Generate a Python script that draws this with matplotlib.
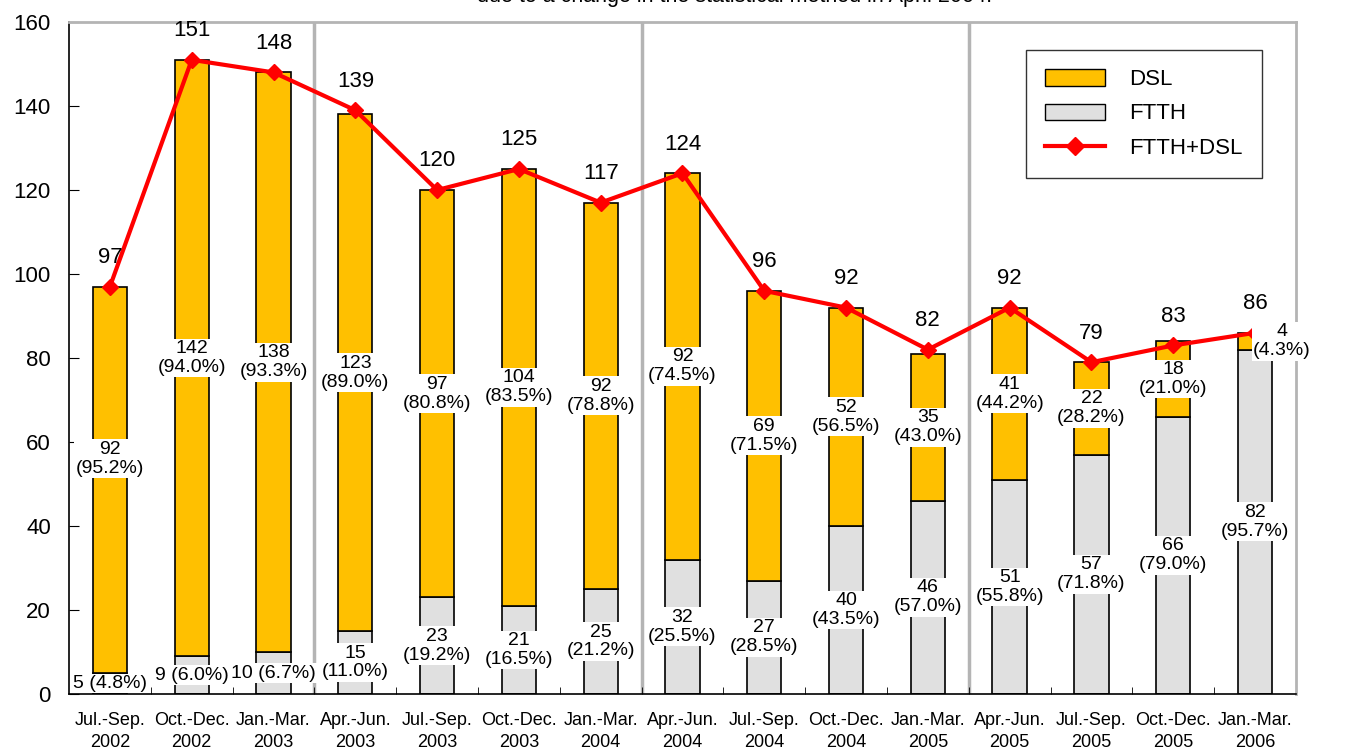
import matplotlib
matplotlib.use("Agg")

import numpy as np
import matplotlib.pyplot as plt
from matplotlib.patches import Patch
from matplotlib.lines import Line2D

plt.rcParams["font.family"] = ["Liberation Sans", "DejaVu Sans"]

# ── data ────────────────────────────────────────────────────────────
quarters = ["Jul.-Sep.\n2002", "Oct.-Dec.\n2002", "Jan.-Mar.\n2003",
            "Apr.-Jun.\n2003", "Jul.-Sep.\n2003", "Oct.-Dec.\n2003",
            "Jan.-Mar.\n2004", "Apr.-Jun.\n2004", "Jul.-Sep.\n2004",
            "Oct.-Dec.\n2004", "Jan.-Mar.\n2005", "Apr.-Jun.\n2005",
            "Jul.-Sep.\n2005", "Oct.-Dec.\n2005", "Jan.-Mar.\n2006"]
ftth = [5, 9, 10, 15, 23, 21, 25, 32, 27, 40, 46, 51, 57, 66, 82]
dsl = [92, 142, 138, 123, 97, 104, 92, 92, 69, 52, 35, 41, 22, 18, 4]
total = [97, 151, 148, 139, 120, 125, 117, 124, 96, 92, 82, 92, 79, 83, 86]
ftth_pct = [4.8, 6.0, 6.7, 11.0, 19.2, 16.5, 21.2, 25.5, 28.5, 43.5,
            57.0, 55.8, 71.8, 79.0, 95.7]
dsl_pct = [95.2, 94.0, 93.3, 89.0, 80.8, 83.5, 78.8, 74.5, 71.5, 56.5,
           43.0, 44.2, 28.2, 21.0, 4.3]
fy_breaks = [2.5, 6.5, 10.5]   # fiscal-year separators

DSL_COLOR = "#FFC000"
FTTH_COLOR = "#E0E0E0"
LINE_COLOR = "#FF0000"
SEP_COLOR = "#B4B4B4"

fig = plt.figure(figsize=(13.46, 7.52), dpi=100)
ax = fig.add_axes([0.0513, 0.0771, 0.9115, 0.8936])

x = np.arange(len(quarters))
bw = 0.42
ax.bar(x, ftth, bw, color=FTTH_COLOR, edgecolor="black", linewidth=1.2, zorder=2)
ax.bar(x, dsl, bw, bottom=ftth, color=DSL_COLOR, edgecolor="black",
       linewidth=1.2, zorder=2)
ax.plot(x, total, color=LINE_COLOR, lw=3, marker="D", ms=8, zorder=4)

for xs in fy_breaks:
    ax.axvline(xs, color=SEP_COLOR, lw=2.5, zorder=1)

box = dict(facecolor="white", edgecolor="none", pad=1.0)
lab_fs = 14
ls = 1.15
for i in range(len(x)):
    # FTTH labels
    if i < 3:
        ax.text(x[i], ftth[i] / 2, f"{ftth[i]} ({ftth_pct[i]:.1f}%)",
                ha="center", va="center", fontsize=lab_fs, bbox=box, zorder=5)
    else:
        ax.text(x[i], ftth[i] / 2, f"{ftth[i]}\n({ftth_pct[i]:.1f}%)",
                ha="center", va="center", fontsize=lab_fs, linespacing=ls,
                bbox=box, zorder=5)
    # DSL labels
    if i == len(x) - 1:
        ax.text(x[i] + 0.33, 84, f"{dsl[i]}\n({dsl_pct[i]:.1f}%)",
                ha="center", va="center", fontsize=lab_fs, linespacing=ls,
                bbox=box, zorder=5)
    else:
        yl = ftth[i] + dsl[i] / 2 + (5 if i == 0 else 0)
        ax.text(x[i], yl, f"{dsl[i]}\n({dsl_pct[i]:.1f}%)",
                ha="center", va="center", fontsize=lab_fs, linespacing=ls,
                bbox=box, zorder=5)
    # totals
    ax.annotate(f"{total[i]}", (x[i], total[i]), xytext=(0, 21),
                textcoords="offset points", ha="center", va="center",
                fontsize=16, zorder=5)

ax.set_xlim(-0.5, len(x) - 0.5)
ax.set_ylim(0, 160)
ax.set_yticks(range(0, 161, 20))
ax.tick_params(axis="y", direction="in", length=7, labelsize=16, pad=13)
ax.set_xticks(x)
ax.set_xticklabels(quarters, fontsize=13, linespacing=1.35)
ax.tick_params(axis="x", length=0, pad=13)
ax.set_xticks(np.arange(0.5, len(x) - 1, 1), minor=True)
ax.tick_params(axis="x", which="minor", direction="in", length=5)

for s in ["left", "bottom"]:
    ax.spines[s].set_color("black")
    ax.spines[s].set_linewidth(1.2)
for s in ["top", "right"]:
    ax.spines[s].set_color(SEP_COLOR)
    ax.spines[s].set_linewidth(2.0)

handles = [Patch(facecolor=DSL_COLOR, edgecolor="black", label="DSL"),
           Patch(facecolor=FTTH_COLOR, edgecolor="black", label="FTTH"),
           Line2D([], [], color=LINE_COLOR, lw=3, marker="D", ms=9,
                  label="FTTH+DSL")]
leg = ax.legend(handles=handles, loc="upper left", bbox_to_anchor=(0.78, 0.958),
                fontsize=16, frameon=True, fancybox=False, handlelength=2.7,
                handleheight=0.75, handletextpad=1.1, labelspacing=0.6,
                borderpad=0.85, borderaxespad=0)
leg.get_frame().set_edgecolor("black")
leg.get_frame().set_linewidth(1.0)

fig.text(0.546, 0.9975, "due to a change in the statistical method in April 2004.",
         ha="center", va="baseline", fontsize=15.5)

fig.savefig("out.png", dpi=100, facecolor="white")
